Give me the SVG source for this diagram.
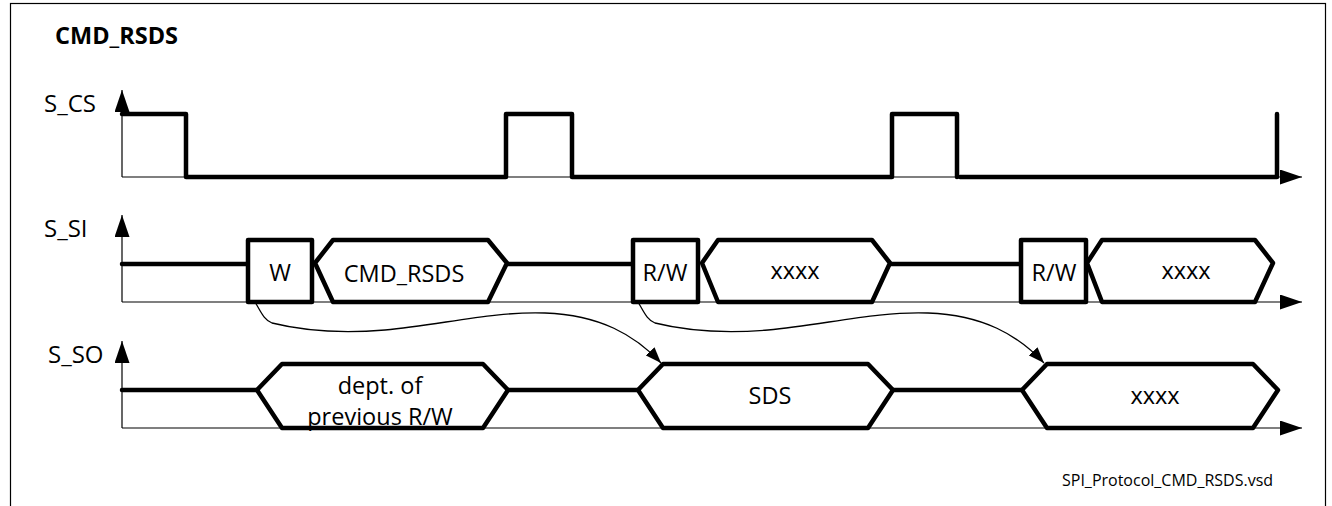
<svg xmlns="http://www.w3.org/2000/svg" width="1332" height="506" viewBox="0 0 1332 506">
<defs>
<style>
.frame{fill:none;stroke:#000;stroke-width:1.2}
.axis{fill:none;stroke:#000;stroke-width:1.2}
.sig{fill:none;stroke:#000;stroke-width:4.5;stroke-linejoin:round;stroke-linecap:round}
.shape{fill:#fff;stroke:#000;stroke-width:4.5;stroke-linejoin:round}
.conn{fill:none;stroke:#000;stroke-width:1.3}
text{font-family:"Open Sans","DejaVu Sans",sans-serif;fill:#000}
.lbl{font-size:24px}
.dat{font-size:23.5px;text-anchor:middle}
.title{font-size:23.5px;font-weight:bold}
.foot{font-size:16px}
</style>
<marker id="arrH" markerWidth="22" markerHeight="15" refX="22" refY="7.5" orient="auto" markerUnits="userSpaceOnUse">
<path d="M0,0 L22,7.5 L0,15 Z" fill="#000"/>
</marker>
<marker id="arrC" markerWidth="16" markerHeight="12" refX="16" refY="6" orient="auto" markerUnits="userSpaceOnUse">
<path d="M0,0 L16,6 L0,12 Z" fill="#000"/>
</marker>
</defs>
<rect class="frame" x="10.5" y="3.5" width="1315" height="530"/>
<text class="title" x="55" y="44">CMD_RSDS</text>

<g id="cs">
<text class="lbl" x="44" y="112">S_CS</text>
<path class="axis" d="M122,177 V90" marker-end="url(#arrH)"/>
<path class="axis" d="M122,177 H1302" marker-end="url(#arrH)"/>
<path class="sig" d="M122,114 H186 V177 H506 V114 H572 V177 H892 V114 H957 V177"/>
<path class="sig" d="M960,177 H1277 V114"/>
</g>

<g id="si">
<text class="lbl" x="44" y="237">S_SI</text>
<path class="axis" d="M122,302 V215" marker-end="url(#arrH)"/>
<path class="axis" d="M122,302 H1302" marker-end="url(#arrH)"/>
<path class="sig" d="M122,264 H248"/>
<path class="sig" d="M507,264 H633"/>
<path class="sig" d="M890,264 H1021"/>
<g id="si-w"><rect class="shape" x="248" y="240" width="64" height="62"/><text class="dat" x="280" y="281">W</text></g>
<g id="si-cmd"><polygon class="shape" points="315,263 333,240 488,240 507,263 488,302 333,302"/><text class="dat" x="404" y="282">CMD_RSDS</text></g>
<g id="si-rw1"><rect class="shape" x="633" y="240" width="65" height="62"/><text class="dat" x="665" y="281">R/W</text></g>
<g id="si-x1"><polygon class="shape" points="702,263 718,240 872,240 890,263 872,302 718,302"/><text class="dat" x="795" y="279">xxxx</text></g>
<g id="si-rw2"><rect class="shape" x="1021" y="240" width="65" height="62"/><text class="dat" x="1054" y="281">R/W</text></g>
<g id="si-x2"><polygon class="shape" points="1087,263 1102,240 1255,240 1273,263 1255,302 1102,302"/><text class="dat" x="1186" y="279">xxxx</text></g>
</g>

<g id="so">
<text class="lbl" x="48" y="363">S_SO</text>
<path class="axis" d="M122,428 V341" marker-end="url(#arrH)"/>
<path class="axis" d="M122,428 H1302" marker-end="url(#arrH)"/>
<path class="sig" d="M122,390 H257"/>
<path class="sig" d="M508,390 H638"/>
<path class="sig" d="M893,390 H1022"/>
<g id="so-prev"><polygon class="shape" points="257,390 282,364 483,364 508,390 483,428 282,428"/><text class="dat" x="380" y="394">dept. of</text><text class="dat" x="380" y="425">previous R/W</text></g>
<g id="so-sds"><polygon class="shape" points="638,390 663,364 868,364 893,390 868,428 663,428"/><text class="dat" x="770" y="404">SDS</text></g>
<g id="so-x"><polygon class="shape" points="1022,390 1047,364 1253,364 1278,390 1253,428 1047,428"/><text class="dat" x="1155" y="404">xxxx</text></g>
</g>

<g id="connectors">
<path class="conn" d="M255,302 C261,312 264,320 272,323 C300,330 335,334 385,330 C440,325 495,311 545,313 C600,315 635,335 661,363" marker-end="url(#arrC)"/>
<path class="conn" d="M638,302 C644,312 647,320 655,323 C683,330 718,334 768,330 C823,325 878,311 928,313 C983,315 1018,335 1044,363" marker-end="url(#arrC)"/>
</g>

<text class="foot" x="1062" y="486">SPI_Protocol_CMD_RSDS.vsd</text>
</svg>
